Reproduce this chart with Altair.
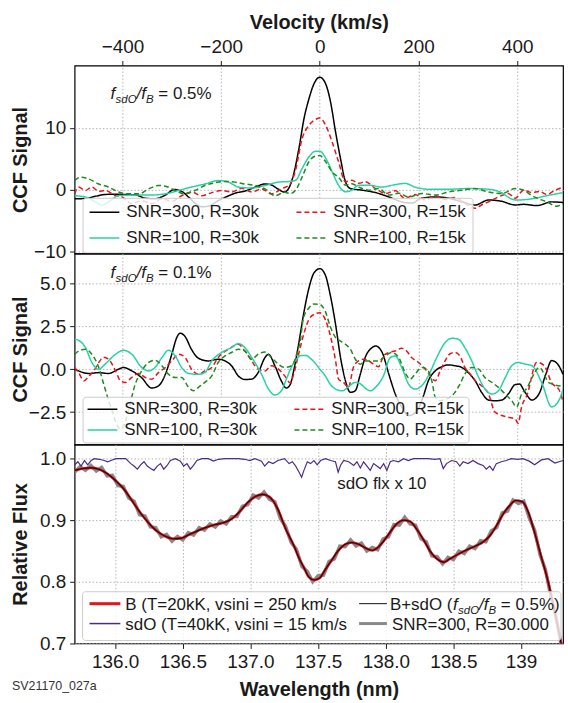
import altair as alt
import pandas as pd

FONT = "Liberation Sans"
TXT = "#1a1a1a"
W = 491
H_TOP, H_MID, H_BOT = 189, 192, 200
V_DOMAIN = [-497, 493]

S300_30, S300_15, S100_30, S100_15 = "SNR=300, R=30k", "SNR=300, R=15k", "SNR=100, R=30k", "SNR=100, R=15k"
# legend fills column by column: column 1 = R=30k, column 2 = R=15k
legend_order = [S300_30, S100_30, S300_15, S100_15]
legend_colors = ["#000000", "#27d2a4", "#e8141c", "#1f8a1f"]
legend_dash = [[1, 0], [1, 0], [5, 3], [5, 3]]

# ---------------- top panel (f_sdO/f_B = 0.5%) ----------------
top_v_300_30 = [-497,-475,-455,-435,-414,-394,-374,-354,-334,-313,-295,-280,-265,-250,-238,-222,-208,-190,-172,-150,
                -131,-111,-100,-85,-72,-63,-53,-42,-32,-22,-12,0,12,22,32,42,52,62,86,113,140,166,186,207,234,261,288,
                315,342,368,396,413,440,470,493]
top_c_300_30 = [-1.5,-1.45,-1.1,-0.8,-0.75,-0.8,-0.85,-1.4,-1.5,-0.9,0.0,-0.3,-1.3,-2.4,-2.8,-2.6,-1.9,-1.2,-0.6,-0.2,
                0.4,0.9,0.8,0.1,-0.4,0.2,2.5,6.8,11.5,14.7,17.1,18.2,17.1,14.1,9.3,5.0,1.25,0.16,-0.1,-0.5,-1.2,-2.0,
                -2.2,-1.4,-1.2,-1.4,-2.0,-2.5,-1.7,-1.9,-2.5,-2.4,-2.6,-2.0,-2.1]
top_v_300_15 = [-497,-489,-475,-462,-448,-435,-414,-401,-381,-361,-341,-320,-300,-280,-260,-240,-219,-199,-179,-158,
                -138,-118,-98,-78,-60,-49,-36,-22,-9,0,12,25,38,52,65,79,92,113,133,153,173,193,214,234,254,274,294,
                315,328,342,362,382,396,413,430,445,460,475,493]
top_c_300_15 = [-0.7,0.4,-0.15,0.4,-0.3,-0.15,-1.0,-1.2,-2.3,-1.8,-2.3,-1.5,-1.9,-1.0,-0.4,-1.0,-0.5,-0.15,-0.4,0.2,
                -0.4,0.1,-0.7,0.1,0.9,3.2,8.2,10.4,11.35,11.6,10.4,7.7,4.5,1.25,1.5,1.0,1.25,0.15,-0.65,-0.2,-1.45,
                -0.8,-1.7,-1.0,-1.6,-1.3,-2.25,-3.05,-2.5,-2.0,-1.2,-0.65,-1.4,-0.1,-0.5,-0.3,-0.8,-0.2,0.4]
top_v_100_30 = [-497,-475,-455,-441,-428,-408,-381,-347,-313,-286,-260,-233,-206,-185,-165,-138,-111,-84,-63,-49,
                -36,-22,-9,0,12,25,38,52,65,79,99,126,153,173,193,220,261,301,342,368,389,400,430,460,493]
top_c_100_30 = [-1.0,-1.2,-2.0,-2.5,-2.0,-1.0,-0.9,-0.9,-0.7,-0.15,0.4,0.9,1.45,1.2,0.4,0.25,0.65,1.2,1.3,1.5,
                3.4,5.3,6.2,6.2,5.1,2.9,0.7,-0.37,-0.1,0.7,0.7,0.4,0.8,1.0,0.4,0.05,0.05,0.16,0.05,-0.5,-1.55,-1.7,
                -1.5,-1.0,-0.5]
top_v_100_15 = [-497,-485,-468,-448,-428,-408,-388,-367,-347,-327,-313,-293,-273,-253,-233,-212,-192,-172,-152,-131,
                -111,-91,-71,-60,-49,-36,-22,-9,0,12,25,38,52,65,79,99,119,140,160,180,207,234,261,288,315,342,368,
                396,413,430,460,480,493]
top_c_100_15 = [1.45,2.0,1.7,0.9,0.4,-0.4,-0.7,-0.7,0.1,0.65,0.55,-0.15,-0.7,-0.15,0.65,1.1,1.3,1.2,0.9,0.65,
                0.1,-1.0,-0.45,-0.65,-0.1,2.0,4.5,5.4,5.5,4.5,2.85,2.0,0.7,0.95,0.4,-0.1,0.15,-0.9,-0.6,-1.2,-0.65,
                -0.9,-0.4,-0.1,0.15,-0.4,-0.65,0.15,-0.1,-1.0,-2.0,-2.7,-2.3]

# ---------------- middle panel (f_sdO/f_B = 0.1%) ----------------
mid_v_300_30 = [-497,-489,-468,-448,-428,-408,-398,-381,-361,-341,-327,-313,-300,-290,-283,-273,-260,-246,-226,-206,
                -192,-179,-165,-152,-138,-125,-111,-104,-91,-78,-68,-60,-53,-43,-33,-22,-12,0,11,21,32,42,52,62,72,
                82,92,106,113,126,140,153,166,180,195,209,220,234,247,261,274,288,301,315,328,342,355,369,382,396,
                405,415,430,445,458,470,482,493]
mid_c_300_30 = [0.0,-0.1,-0.25,-0.2,-0.25,0.0,0.1,-0.1,-0.5,-1.1,-0.97,-0.3,0.87,1.84,2.1,1.9,1.15,0.64,0.48,0.58,
                0.48,0.2,-0.4,-0.6,-0.58,-0.2,0.68,0.87,0.2,-0.68,-1.1,-0.9,-0.1,1.45,3.19,4.73,5.6,5.86,5.5,4.35,
                2.6,0.68,-0.68,-1.35,-1.25,-0.3,0.68,1.26,1.35,1.0,-0.3,-1.45,-2.2,-2.7,-2.5,-1.64,-0.68,-0.1,0.14,
                0.25,0.2,0.1,-0.2,-0.68,-1.35,-1.8,-1.84,-1.8,-1.45,-0.9,-0.87,-1.3,-1.8,-1.4,-0.3,0.5,0.3,-0.3]
mid_v_300_15 = [-497,-489,-478,-468,-458,-448,-438,-428,-414,-404,-394,-381,-367,-354,-341,-327,-313,-300,-286,-273,
                -260,-246,-233,-219,-206,-185,-165,-152,-138,-125,-111,-98,-84,-71,-60,-53,-43,-33,-22,-12,0,11,21,
                32,38,48,58,68,78,88,99,109,119,129,140,153,166,176,186,200,214,224,234,244,254,264,274,284,294,305,
                315,328,342,355,369,382,396,402,409,420,440,455,470,485,493]
mid_c_300_15 = [0.1,-0.2,-0.68,-0.4,-0.1,0.39,0.7,0.58,-0.1,-0.68,-0.77,-0.48,-0.25,-0.48,-0.58,-0.2,0.1,0.48,0.87,
                0.68,0.0,-0.3,-0.1,0.1,0.68,1.16,1.45,1.06,0.48,0.0,-0.1,0.2,0.0,-0.39,-0.8,-0.29,0.87,2.0,2.9,3.19,
                3.29,2.9,2.0,0.48,-0.58,-0.77,-1.06,0.1,0.48,0.58,0.48,0.3,0.14,0.77,0.97,1.06,1.22,1.06,0.68,0.39,
                0.0,-0.39,-0.68,-0.1,0.48,0.9,0.97,0.77,0.1,-0.29,-0.68,-0.97,-1.45,-2.5,-2.7,-2.8,-2.9,-3.15,-2.2,
                -1.5,0.4,0.2,-0.8,-1.2,-1.9]
mid_v_100_30 = [-497,-489,-475,-462,-448,-435,-414,-398,-381,-361,-347,-334,-320,-307,-293,-280,-266,-246,-233,-219,
                -199,-179,-165,-152,-138,-118,-104,-91,-78,-68,-58,-48,-38,-28,-18,-8,0,11,21,32,46,59,72,82,92,102,
                115,129,143,153,166,180,193,207,220,237,254,268,281,294,308,322,335,349,362,376,389,402,415,430,450,
                470,485,493]
mid_c_100_30 = [1.74,1.68,1.26,0.39,0.0,0.3,0.87,1.1,0.87,0.1,-0.1,0.1,0.68,1.1,0.77,0.1,-0.25,-0.3,-0.2,0.48,
                0.97,1.26,1.49,1.26,0.68,-0.3,-1.16,-1.5,-1.26,-0.6,0.1,0.55,0.8,0.8,0.6,0.3,0.0,-0.39,-0.87,-1.16,
                -1.26,-1.0,-0.77,-0.85,-1.1,-1.26,-1.0,-0.39,0.68,0.77,0.1,-0.87,-1.16,-0.95,-0.39,0.68,1.55,1.8,
                1.74,1.26,0.48,-0.48,-1.16,-1.45,-1.26,-0.48,0.2,0.39,0.3,0.2,-0.8,-2.2,-1.8,-1.2]
mid_v_100_15 = [-497,-489,-475,-462,-448,-438,-428,-421,-412,-404,-396,-388,-374,-361,-347,-334,-320,-307,-293,-280,
                -266,-256,-246,-233,-219,-206,-192,-179,-165,-152,-138,-125,-111,-98,-84,-71,-57,-47,-40,-33,-22,-12,
                0,11,21,32,42,52,62,72,82,92,106,119,133,146,160,173,183,193,207,217,227,234,244,254,264,274,284,294,
                308,322,335,349,362,376,389,399,409,420,430,445,465,493]
mid_c_100_15 = [0.87,1.06,1.16,0.87,0.1,-0.87,-1.84,-2.4,-3.2,-3.5,-3.2,-2.4,-0.87,-0.1,0.39,0.52,0.2,-0.29,-0.48,
                -0.48,-1.06,-1.26,-1.06,-0.77,-0.39,0.39,0.77,0.97,1.16,1.06,0.58,0.87,1.0,0.68,0.29,0.1,0.2,0.87,1.6,
                3.0,3.57,3.8,3.77,3.38,2.5,1.84,1.64,1.45,1.16,0.58,0.29,0.48,0.48,0.48,0.77,0.97,0.68,-0.2,-0.58,
                -0.29,0.1,0.0,-0.68,-1.64,-1.84,-1.75,-1.64,-1.35,-0.87,-0.29,0.1,0.0,-0.5,-0.77,-1.06,-1.45,-1.84,
                -2.2,-1.45,-1.1,-0.5,0.1,-0.8,-1.0]

# ---------------- bottom panel (spectra) ----------------
wl_model = [135.70,135.76,135.82,135.88,135.94,136.00,136.07,136.13,136.19,136.25,136.31,136.37,136.43,136.49,136.55,
            136.62,136.68,136.74,136.80,136.86,136.92,136.98,137.04,137.09,137.14,137.20,137.26,137.32,137.36,137.40,
            137.43,137.47,137.51,137.55,137.60,137.65,137.70,137.75,137.80,137.85,137.90,137.93,137.98,138.03,138.08,
            138.13,138.18,138.23,138.28,138.33,138.38,138.43,138.47,138.52,138.57,138.62,138.67,138.72,138.77,138.82,
            138.87,138.92,138.96,139.01,139.05,139.10,139.15,139.20,139.25,139.31]
flux_b = [0.981,0.984,0.985,0.983,0.976,0.965,0.949,0.930,0.911,0.895,0.882,0.874,0.870,0.871,0.877,0.884,0.889,0.893,
          0.896,0.902,0.914,0.929,0.939,0.942,0.938,0.919,0.886,0.859,0.838,0.821,0.808,0.803,0.806,0.819,0.835,0.851,
          0.861,0.864,0.861,0.855,0.851,0.854,0.865,0.880,0.894,0.900,0.898,0.885,0.868,0.849,0.837,0.832,0.837,0.843,
          0.849,0.854,0.859,0.865,0.875,0.892,0.911,0.925,0.932,0.930,0.915,0.880,0.840,0.800,0.750,0.685]
flux_b_sdo = [0.981,0.984,0.985,0.983,0.976,0.965,0.949,0.930,0.911,0.895,0.882,0.874,0.870,0.871,0.877,0.884,0.889,
              0.893,0.896,0.902,0.914,0.929,0.939,0.942,0.938,0.919,0.886,0.859,0.838,0.821,0.808,0.803,0.806,0.819,
              0.835,0.851,0.861,0.864,0.861,0.855,0.851,0.854,0.865,0.880,0.894,0.900,0.898,0.885,0.868,0.849,0.837,
              0.832,0.837,0.843,0.849,0.854,0.859,0.865,0.875,0.892,0.911,0.925,0.932,0.930,0.915,0.880,0.840,0.800,
              0.750,0.685]
wl_obs = [135.70,135.74,135.78,135.82,135.86,135.90,135.94,135.98,136.02,136.06,136.10,136.14,136.18,136.22,136.26,
          136.30,136.34,136.38,136.42,136.46,136.50,136.54,136.58,136.62,136.66,136.70,136.74,136.78,136.82,136.86,
          136.90,136.94,136.98,137.02,137.06,137.10,137.14,137.18,137.22,137.26,137.30,137.34,137.38,137.42,137.46,
          137.50,137.54,137.58,137.62,137.66,137.70,137.74,137.78,137.82,137.86,137.90,137.94,137.98,138.02,138.06,
          138.10,138.14,138.18,138.22,138.26,138.30,138.34,138.38,138.42,138.46,138.50,138.54,138.58,138.62,138.66,
          138.70,138.74,138.78,138.82,138.86,138.90,138.94,138.98,139.02,139.06,139.10,139.14,139.18,139.22,139.26,
          139.30]
flux_obs = [0.978,0.987,0.981,0.989,0.980,0.986,0.972,0.973,0.956,0.955,0.936,0.931,0.909,0.907,0.889,0.888,0.873,
            0.877,0.866,0.874,0.868,0.880,0.876,0.888,0.884,0.894,0.889,0.899,0.894,0.906,0.906,0.923,0.925,0.941,
            0.936,0.946,0.934,0.930,0.903,0.890,0.864,0.853,0.825,0.817,0.800,0.810,0.811,0.833,0.837,0.858,0.857,
            0.868,0.858,0.863,0.850,0.856,0.852,0.870,0.873,0.893,0.892,0.905,0.894,0.892,0.870,0.865,0.842,0.841,
            0.829,0.840,0.836,0.850,0.846,0.858,0.854,0.867,0.865,0.883,0.888,0.912,0.915,0.933,0.927,0.931,0.904,
            0.884,0.844,0.820,0.776,0.742,0.692]
wl_sdo = [135.697,135.724,135.748,135.773,135.797,135.822,135.846,135.883,135.919,135.944,135.968,136.005,136.042,
          136.078,136.115,136.139,136.164,136.188,136.213,136.237,136.262,136.286,136.311,136.335,136.359,136.384,
          136.408,136.445,136.482,136.506,136.531,136.555,136.579,136.604,136.641,136.689,136.726,136.763,136.812,
          136.861,136.910,136.958,136.995,137.032,137.081,137.105,137.134,137.166,137.203,137.252,137.285,137.31,
          137.334,137.359,137.378,137.395,137.42,137.444,137.469,137.493,137.518,137.555,137.591,137.628,137.648,
          137.665,137.689,137.726,137.763,137.787,137.812,137.836,137.861,137.885,137.91,137.934,137.959,137.984,
          138.008,138.033,138.057,138.094,138.131,138.167,138.204,138.253,138.314,138.363,138.4,138.425,138.449,
          138.486,138.523,138.547,138.572,138.608,138.645,138.682,138.719,138.743,138.768,138.792,138.817,138.854,
          138.89,138.927,138.976,139.013,139.06,139.1,139.15,139.2,139.25,139.31]
flux_sdo_x10 = [0.989,0.995,0.988,0.997,0.990,0.997,1.0,0.999,0.997,0.995,0.997,1.0,1.0,1.0,0.992,0.988,0.983,0.990,
                0.995,0.988,0.984,0.981,0.988,0.992,0.983,0.989,0.997,1.0,0.996,0.988,0.992,0.983,0.989,0.997,1.0,
                1.0,0.996,0.999,1.0,1.0,1.0,0.999,0.997,1.0,0.996,0.988,0.995,0.992,0.997,1.0,0.992,0.995,0.988,
                0.978,0.970,0.981,0.995,0.992,0.997,0.990,0.997,1.0,0.997,0.995,0.978,0.989,0.997,0.995,0.989,0.995,
                0.985,0.995,0.988,0.981,0.992,0.988,0.984,0.992,0.981,0.995,0.997,0.995,1.0,0.997,1.0,1.0,1.0,0.999,
                1.0,0.984,0.992,0.997,0.995,0.988,0.995,0.992,0.997,0.992,0.989,0.983,0.988,0.981,0.992,0.995,0.997,
                1.0,0.999,1.0,0.996,0.990,0.998,1.0,0.993,0.997]

vel_ticks = [-400, -200, 0, 200, 400]
wl_ticks = [136.0, 136.5, 137.0, 137.5, 138.0, 138.5, 139.0]


def ccf_frame(groups):
    rows = []
    for name, xs, ys in groups:
        for x, y in zip(xs, ys):
            rows.append({"series": name, "v": x, "ccf": y})
    return pd.DataFrame(rows)


df_top = ccf_frame([(S300_30, top_v_300_30, top_c_300_30), (S300_15, top_v_300_15, top_c_300_15),
                    (S100_30, top_v_100_30, top_c_100_30), (S100_15, top_v_100_15, top_c_100_15)])
df_mid = ccf_frame([(S300_30, mid_v_300_30, mid_c_300_30), (S300_15, mid_v_300_15, mid_c_300_15),
                    (S100_30, mid_v_100_30, mid_c_100_30), (S100_15, mid_v_100_15, mid_c_100_15)])

ONE = pd.DataFrame({"k": [0]})


def text_at(text, x, y, size=17, style="normal", align="left", color=TXT):
    return alt.Chart(ONE).mark_text(align=align, baseline="alphabetic", font=FONT, fontSize=size,
                                    fontStyle=style, color=color).encode(
        x=alt.value(x), y=alt.value(y), text=alt.value(text))


def ratio_parts(x0, y0, suffix):
    # f_sdO / f_B  with subscripts
    return [text_at("f", x0, y0, 17, "italic"),
            text_at("sdO", x0 + 5.2, y0 + 4, 11.5, "italic"),
            text_at("/f", x0 + 26.3, y0, 17, "italic"),
            text_at("B", x0 + 35.8, y0 + 4, 11.5, "italic"),
            text_at(suffix, x0 + 48.2, y0, 17, "normal")]


def ccf_legend(ly, pad, rowpad):
    return alt.Legend(title=None, orient="none", legendX=8, legendY=ly, columns=2, columnPadding=36,
                      rowPadding=rowpad, padding=pad, fillColor="rgba(255,255,255,0.8)", strokeColor="#cccccc",
                      cornerRadius=3, labelFontSize=17, labelFont=FONT, labelColor=TXT, labelLimit=300,
                      symbolType="stroke", symbolSize=900, symbolStrokeWidth=1.5, labelOffset=6, clipHeight=17)


def y_ccf_axis(values, fmt, height):
    return alt.Axis(values=values, format=fmt, title="CCF Signal", titleX=-44, titleY=height / 2, titleAngle=270,
                    titleBaseline="bottom", titleAlign="center")


def ccf_panel(df, y_domain, y_values, y_fmt, height, x_axis, legend, suffix, ann_y):
    lines = alt.Chart(df).mark_line(strokeWidth=1.5, clip=True, interpolate="monotone").encode(
        x=alt.X("v:Q", scale=alt.Scale(domain=V_DOMAIN, nice=False, zero=False), axis=x_axis),
        y=alt.Y("ccf:Q", scale=alt.Scale(domain=y_domain, nice=False, zero=False),
                axis=y_ccf_axis(y_values, y_fmt, height)),
        color=alt.Color("series:N", scale=alt.Scale(domain=legend_order, range=legend_colors), legend=legend),
        strokeDash=alt.StrokeDash("series:N", scale=alt.Scale(domain=legend_order, range=legend_dash),
                                  legend=legend),
    )
    return alt.layer(lines, *ratio_parts(36, ann_y, suffix)).properties(width=W, height=height)


top_axis = alt.Axis(orient="top", values=vel_ticks, title="Velocity (km/s)", titlePadding=5, labelFlush=False)
mid_axis = alt.Axis(values=vel_ticks, labels=False, ticks=False, title=None, domain=False)

top = ccf_panel(df_top, [-10.37, 20.1], [-10, 0, 10], "d", H_TOP, top_axis, ccf_legend(133, 6, 8), "= 0.5%", 34)
mid = ccf_panel(df_mid, [-4.39, 6.74], [-2.5, 0.0, 2.5, 5.0], ".1f", H_MID, mid_axis, ccf_legend(144, 4, 3),
                "= 0.1%", 25)

# bottom panel
bx = alt.X("wl:Q", scale=alt.Scale(domain=[135.7, 139.31], nice=False, zero=False),
           axis=alt.Axis(values=wl_ticks, labelExpr="datum.value == 139 ? '139' : format(datum.value, '.1f')",
                         title="Wavelength (nm)", titlePadding=8, labelFlush=False))
by = alt.Y("flux:Q", scale=alt.Scale(domain=[0.7, 1.023], nice=False, zero=False),
           axis=alt.Axis(values=[0.7, 0.8, 0.9, 1.0], format=".1f", title="Relative Flux", titleX=-44,
                         titleY=H_BOT / 2, titleAngle=270, titleBaseline="bottom", titleAlign="center"))

df_obs = pd.DataFrame({"wl": wl_obs, "flux": flux_obs})
df_b = pd.DataFrame({"wl": wl_model, "flux": flux_b})
df_bs = pd.DataFrame({"wl": wl_model, "flux": flux_b_sdo})
df_sdo = pd.DataFrame({"wl": wl_sdo, "flux": flux_sdo_x10})

obs_line = alt.Chart(df_obs).mark_line(color="#8a8a8a", strokeWidth=3.4, clip=True).encode(x=bx, y=by)
b_line = alt.Chart(df_b).mark_line(color="#e3141b", strokeWidth=2.6, clip=True, interpolate="monotone").encode(x=bx, y=by)
bs_line = alt.Chart(df_bs).mark_line(color="#111111", strokeWidth=1.1, clip=True, interpolate="monotone").encode(x=bx, y=by)
sdo_line = alt.Chart(df_sdo).mark_line(color="#4b2c84", strokeWidth=1.2, clip=True).encode(x=bx, y=by)

leg_frame = alt.Chart(ONE).mark_rect(fill="white", fillOpacity=0.8, stroke="#cccccc", strokeWidth=1,
                                     cornerRadius=3).encode(
    x=alt.value(8), x2=alt.value(489), y=alt.value(148), y2=alt.value(197))


def leg_rule(x1, x2, y, color, width):
    return alt.Chart(ONE).mark_rule(color=color, strokeWidth=width).encode(
        x=alt.value(x1), x2=alt.value(x2), y=alt.value(y))


bottom_layers = [
    obs_line, b_line, bs_line, sdo_line,
    text_at("sdO flx x 10", 264, 45),
    leg_frame,
    leg_rule(15, 46, 160, "#e3141b", 3),
    leg_rule(15, 46, 180, "#4b2c84", 1.5),
    leg_rule(286, 314, 160, "#111111", 1),
    leg_rule(286, 314, 180, "#8a8a8a", 3),
    text_at("B (T=20kK, vsini = 250 km/s", 51, 166),
    text_at("sdO (T=40kK, vsini = 15 km/s", 51, 186),
    text_at("B+sdO (", 317, 166),
    *ratio_parts(317 + 63.3, 166, "= 0.5%)"),
    text_at("SNR=300, R=30.000", 319, 186),
    text_at("SV21170_027a", -63, 247, 12.5, "normal", "left", "#333333"),
]
bottom = alt.layer(*bottom_layers).properties(width=W, height=H_BOT)

chart = alt.vconcat(top, mid, bottom, spacing=0, bounds="flush").resolve_scale(
    x="independent", y="independent", color="independent", strokeDash="independent"
).resolve_legend(color="independent", strokeDash="independent").properties(
    padding={"left": 10, "top": 10, "right": 4, "bottom": 2}
).configure_view(stroke="#000000", strokeWidth=1.2).configure_axis(
    labelFont=FONT, titleFont=FONT, labelColor=TXT, titleColor=TXT, tickColor=TXT, labelFontSize=19,
    titleFontSize=20, titleFontWeight="bold", tickSize=5, labelPadding=4, gridColor="#b3b3b3",
    gridDash=[1.5, 2], gridWidth=1, domain=False, grid=True
).configure_legend(labelFont=FONT)

chart.save("out.html", embed_options={"renderer": "svg", "actions": False})
